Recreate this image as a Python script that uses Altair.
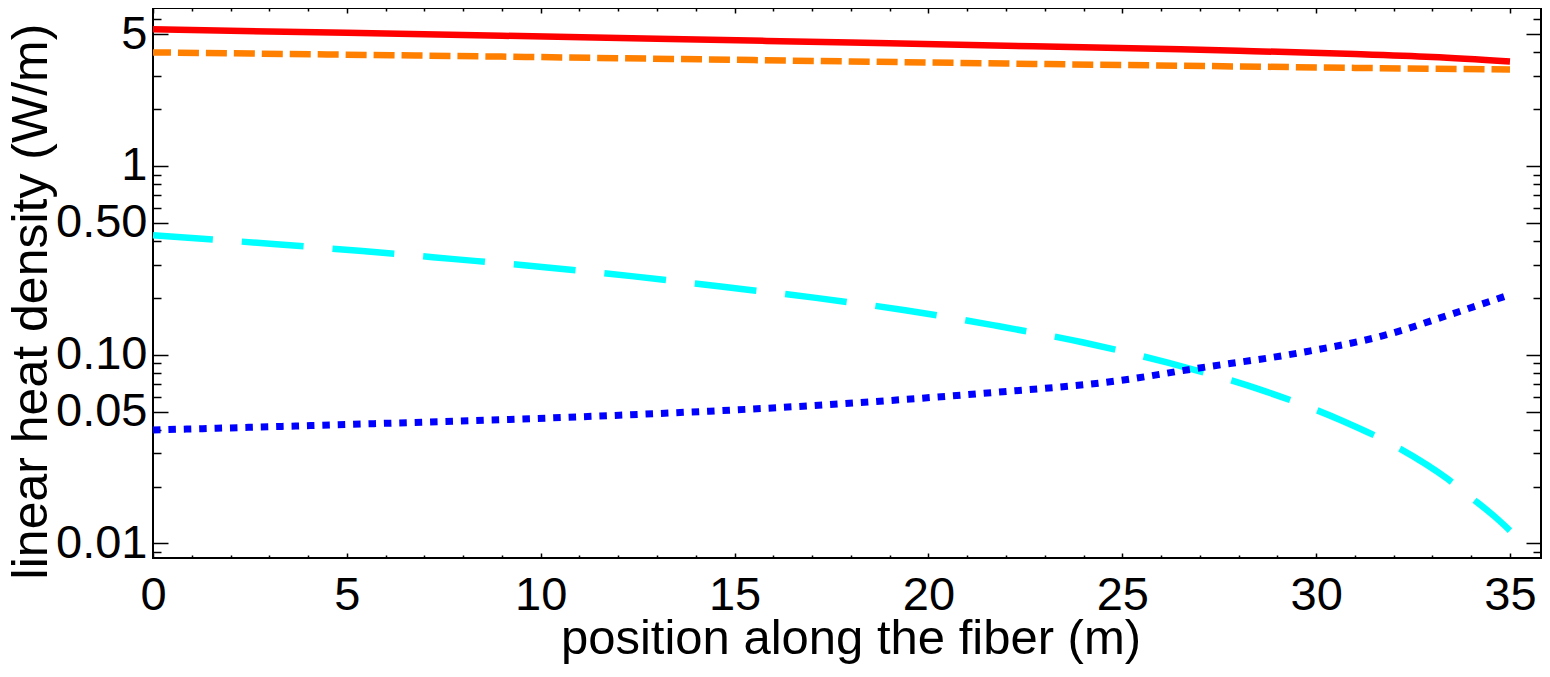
import altair as alt
import pandas as pd

# ---- values ----
red_x = [0, 5, 9, 13, 18, 22, 26.5, 28, 31, 33, 35]
red_y = [5.30, 5.08, 4.90, 4.72, 4.51, 4.34, 4.15, 4.08, 3.92, 3.78, 3.58]

orange_x = [0, 4.5, 9, 13.5, 18, 22, 26.5, 31, 35]
orange_y = [4.00, 3.90, 3.80, 3.69, 3.58, 3.49, 3.40, 3.31, 3.25]

cyan_x = [0, 3.1, 5.4, 7.7, 10.1, 12.4, 14.7, 17.1, 19.4, 21.7, 24.0, 26.2, 28.5, 30.7,
          32.1, 33.4, 34.0, 34.6, 35]
cyan_y = [0.430, 0.386, 0.354, 0.322, 0.291, 0.260, 0.229, 0.200, 0.172, 0.143, 0.116,
          0.0904, 0.0659, 0.0444, 0.0323, 0.0219, 0.0175, 0.0139, 0.0117]

blue_x = [0, 5.7, 11.5, 17.8, 21.4, 24.9, 26.9, 29.5, 31.8, 33.5, 35]
blue_y = [0.0399, 0.0431, 0.0473, 0.0550, 0.0624, 0.0728, 0.0845, 0.1017, 0.1272, 0.1643, 0.208]

# tick positions / labels
x_major = [0, 5, 10, 15, 20, 25, 30, 35]
x_minor = [1, 2, 3, 4, 6, 7, 8, 9, 11, 12, 13, 14, 16, 17, 18, 19, 21, 22, 23, 24,
           26, 27, 28, 29, 31, 32, 33, 34]
y_major = [0.01, 0.05, 0.1, 0.5, 1, 5]
y_minor = [0.009, 0.02, 0.03, 0.04, 0.06, 0.07, 0.08, 0.09,
           0.2, 0.3, 0.4, 0.6, 0.7, 0.8, 0.9, 2, 3, 4, 6]

x_domain = [0, 35.8]
y_domain = [0.008368, 6.875]

W, H = 1388, 550
FONT = "Liberation Sans"

df_red = pd.DataFrame({"x": red_x, "y": red_y})
df_orange = pd.DataFrame({"x": orange_x, "y": orange_y})
df_cyan = pd.DataFrame({"x": cyan_x, "y": cyan_y})
df_blue = pd.DataFrame({"x": blue_x, "y": blue_y})

xscale = alt.Scale(domain=x_domain, nice=False, zero=False)
yscale = alt.Scale(type="log", domain=y_domain, nice=False, zero=False)


def tick_axis(values, orient, offset, size):
    return alt.Axis(values=values, orient=orient, offset=offset, tickSize=size,
                    tickWidth=1.5, tickColor="black", ticks=True, labels=False,
                    domain=False, grid=False, title=None)


x_label_axis = alt.Axis(
    values=x_major, orient="bottom", ticks=False, tickSize=0, domain=False, grid=False,
    format="d", labelFont=FONT, labelFontSize=47, labelColor="black",
    labelPadding=51, labelBaseline="alphabetic", labelFlush=False, labelOverlap=False,
    title="position along the fiber (m)", titleFont=FONT, titleFontSize=49,
    titleFontWeight="normal", titleColor="black", titleX=697.5, titleY=95,
    titleBaseline="alphabetic", titleAlign="center")

y_label_axis = alt.Axis(
    values=y_major, orient="left", ticks=False, tickSize=0, domain=False, grid=False,
    labelExpr="datum.value >= 1 ? format(datum.value, 'd') : format(datum.value, '.2f')",
    labelFont=FONT, labelFontSize=47, labelColor="black", labelPadding=6,
    labelBaseline="middle", labelOverlap=False, labelFlush=False,
    title="linear heat density (W/m)", titleFont=FONT, titleFontSize=50,
    titleFontWeight="normal", titleColor="black", titleX=-107, titleY=293,
    titleAngle=270, titleBaseline="alphabetic", titleAlign="center")


def axis_layer(xaxis, yaxis):
    return alt.Chart(df_red).mark_line(strokeOpacity=0).encode(
        x=alt.X("x:Q", scale=xscale, axis=xaxis),
        y=alt.Y("y:Q", scale=yscale, axis=yaxis),
    )


layers = [
    axis_layer(x_label_axis, y_label_axis),
    axis_layer(tick_axis(x_major, "top", -H, 5), tick_axis(y_major, "right", -W, 15)),
    axis_layer(tick_axis(x_minor, "top", -H, 3), tick_axis(y_minor, "right", -W, 8)),
    axis_layer(tick_axis(x_major, "bottom", -H, 5), tick_axis(y_major, "left", -W, 15)),
    axis_layer(tick_axis(x_minor, "bottom", -H, 3), tick_axis(y_minor, "left", -W, 8)),
]


def series(df, color, width, dash=None, offset=0):
    kw = dict(color=color, strokeWidth=width, interpolate="monotone", strokeCap="butt")
    if dash:
        kw["strokeDash"] = dash
        kw["strokeDashOffset"] = offset
    return alt.Chart(df).mark_line(**kw).encode(
        x=alt.X("x:Q", scale=xscale, axis=None),
        y=alt.Y("y:Q", scale=yscale, axis=None),
    )


layers += [
    series(df_cyan, "#00FFFF", 6.5, [62, 29], 2),
    series(df_blue, "#0000FF", 7, [7.5, 7.9], 0),
    series(df_orange, "#FF8000", 6.5, [21, 6.95], 3),
    series(df_red, "#FF0000", 6.5),
]

chart = alt.layer(*layers).resolve_axis(x="independent", y="independent").properties(
    width=W, height=H,
    autosize=alt.AutoSizeParams(type="none"),
    padding={"left": 145, "top": 0, "right": 1, "bottom": 106},
    background="white",
).configure_view(stroke="black", strokeWidth=2)

chart.save("out.html", embed_options={"renderer": "svg", "actions": False})
